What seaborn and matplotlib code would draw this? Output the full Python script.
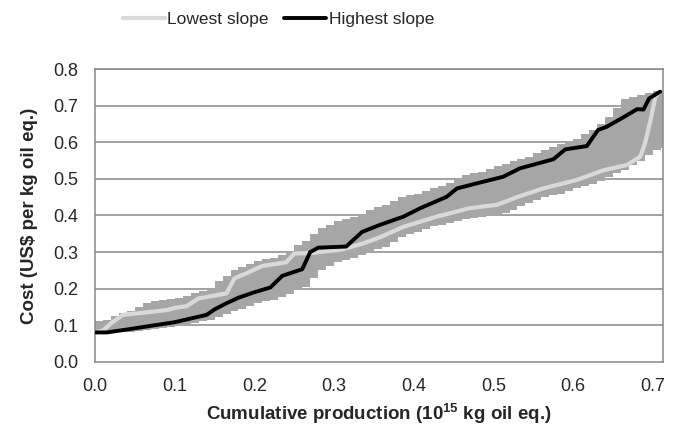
import numpy as np
import pandas as pd
import matplotlib
matplotlib.use("Agg")
import matplotlib.pyplot as plt
import seaborn as sns

# ---- data ----
band_x = [0.00, 0.01, 0.02, 0.03, 0.04, 0.05, 0.06, 0.07, 0.08, 0.09,
          0.10, 0.11, 0.12, 0.13, 0.14, 0.15, 0.16, 0.17, 0.18, 0.19,
          0.20, 0.21, 0.22, 0.23, 0.24, 0.25, 0.26, 0.27, 0.28, 0.29,
          0.30, 0.31, 0.32, 0.33, 0.34, 0.35, 0.36, 0.37, 0.38, 0.39,
          0.40, 0.41, 0.42, 0.43, 0.44, 0.45, 0.46, 0.47, 0.48, 0.49,
          0.50, 0.51, 0.52, 0.53, 0.54, 0.55, 0.56, 0.57, 0.58, 0.59,
          0.60, 0.61, 0.62, 0.63, 0.64, 0.65, 0.66, 0.67, 0.68, 0.69,
          0.70, 0.71, 0.7125]
band_upper = [0.110, 0.115, 0.125, 0.133, 0.140, 0.150, 0.160, 0.165, 0.170, 0.172,
              0.175, 0.180, 0.187, 0.193, 0.200, 0.222, 0.235, 0.250, 0.260, 0.268,
              0.275, 0.280, 0.285, 0.292, 0.300, 0.318, 0.330, 0.350, 0.365, 0.375,
              0.385, 0.390, 0.395, 0.405, 0.415, 0.422, 0.430, 0.440, 0.450, 0.455,
              0.460, 0.468, 0.475, 0.482, 0.490, 0.500, 0.510, 0.515, 0.520, 0.528,
              0.535, 0.542, 0.550, 0.555, 0.560, 0.570, 0.580, 0.588, 0.595, 0.602,
              0.610, 0.622, 0.635, 0.650, 0.670, 0.695, 0.720, 0.725, 0.730, 0.735,
              0.740, 0.742, 0.742]
band_lower = [0.075, 0.078, 0.080, 0.081, 0.082, 0.085, 0.087, 0.090, 0.092, 0.095,
              0.098, 0.101, 0.105, 0.110, 0.115, 0.122, 0.130, 0.138, 0.145, 0.152,
              0.160, 0.165, 0.170, 0.178, 0.185, 0.195, 0.205, 0.230, 0.250, 0.262,
              0.272, 0.279, 0.285, 0.293, 0.300, 0.308, 0.315, 0.328, 0.340, 0.348,
              0.355, 0.362, 0.370, 0.375, 0.380, 0.385, 0.390, 0.393, 0.395, 0.398,
              0.400, 0.407, 0.415, 0.425, 0.435, 0.443, 0.450, 0.455, 0.460, 0.468,
              0.475, 0.480, 0.485, 0.495, 0.505, 0.515, 0.525, 0.538, 0.550, 0.565,
              0.580, 0.585, 0.585]

high_x = [0.000, 0.015, 0.040, 0.070, 0.100, 0.120, 0.140, 0.150, 0.165, 0.180, 0.200, 0.220,
          0.235, 0.260, 0.270, 0.280, 0.315, 0.335, 0.357, 0.387, 0.408, 0.441, 0.454, 0.479,
          0.512, 0.533, 0.575, 0.590, 0.617, 0.631, 0.642, 0.663, 0.680, 0.688, 0.695, 0.709]
high_y = [0.080, 0.080, 0.088, 0.098, 0.108, 0.118, 0.128, 0.143, 0.160, 0.175, 0.190, 0.203,
          0.235, 0.253, 0.300, 0.312, 0.315, 0.355, 0.374, 0.397, 0.420, 0.451, 0.474, 0.488,
          0.506, 0.529, 0.554, 0.581, 0.590, 0.634, 0.643, 0.669, 0.691, 0.690, 0.720, 0.739]

low_x = [0.000, 0.010, 0.020, 0.035, 0.090, 0.100, 0.115, 0.130, 0.165, 0.175, 0.190, 0.210,
         0.240, 0.250, 0.270, 0.310, 0.337, 0.357, 0.387, 0.429, 0.470, 0.504, 0.533, 0.562,
         0.604, 0.638, 0.667, 0.684, 0.690, 0.696, 0.703, 0.709]
low_y = [0.080, 0.085, 0.105, 0.128, 0.141, 0.147, 0.152, 0.173, 0.187, 0.228, 0.242, 0.262,
         0.272, 0.296, 0.297, 0.307, 0.324, 0.340, 0.369, 0.397, 0.420, 0.429, 0.453, 0.474,
         0.497, 0.524, 0.538, 0.561, 0.598, 0.652, 0.725, 0.739]

x_ticks = [0.0, 0.1, 0.2, 0.3, 0.4, 0.5, 0.6, 0.7]
y_ticks = [0.0, 0.1, 0.2, 0.3, 0.4, 0.5, 0.6, 0.7, 0.8]

# ---- style ----
sns.set_theme(style="white")
plt.rcParams['font.family'] = ['Liberation Sans', 'DejaVu Sans']
plt.rcParams['mathtext.fontset'] = 'custom'
plt.rcParams['mathtext.rm'] = 'Liberation Sans'
plt.rcParams['mathtext.bf'] = 'Liberation Sans:bold'

fig = plt.figure(figsize=(6.77, 4.28), dpi=100)
ax = fig.add_axes([0.1403, 0.155, 0.839, 0.683])

grid_c = '#878787'
for yv in y_ticks[1:]:
    ax.axhline(yv, color=grid_c, lw=1.1, zorder=0)

ax.fill_between(band_x, band_lower, band_upper, step='post', color='#a6a6a6', lw=0, zorder=1)

df_low = pd.DataFrame({'x': low_x, 'y': low_y})
df_high = pd.DataFrame({'x': high_x, 'y': high_y})
sns.lineplot(data=df_low, x='x', y='y', ax=ax, color='#d9d9d9', lw=3.0,
             label='Lowest slope', zorder=3, sort=False)
sns.lineplot(data=df_high, x='x', y='y', ax=ax, color='black', lw=2.8,
             label='Highest slope', zorder=4, sort=False)

ax.set_xlim(0, 0.7125)
ax.set_ylim(0, 0.8)
ax.set_xticks(x_ticks)
ax.set_yticks(y_ticks)
ax.set_xticklabels([f"{v:.1f}" for v in x_ticks], fontsize=13)
ax.set_yticklabels([f"{v:.1f}" for v in y_ticks], fontsize=13)
ax.tick_params(axis='both', direction='out', length=5, width=1.1, color=grid_c)
ax.tick_params(axis='x', pad=7)
ax.tick_params(axis='y', pad=7)

for s in ['left', 'right', 'top', 'bottom']:
    ax.spines[s].set_visible(True)
    ax.spines[s].set_color(grid_c)
    ax.spines[s].set_linewidth(1.1)

ax.set_xlabel(r"Cumulative production ($\mathbf{10^{15}}$ kg oil eq.)",
              fontsize=13.5, fontweight='bold', labelpad=5)
ax.set_ylabel(r"Cost (US\$ per kg oil eq.)", fontsize=13.5, fontweight='bold', labelpad=11)

leg = ax.legend(loc='center', bbox_to_anchor=(0.323, 1.172), ncol=2, frameon=False,
                fontsize=12.5, handlelength=2.4, handletextpad=0.15, columnspacing=0.9)

fig.savefig('out.png', dpi=100)
